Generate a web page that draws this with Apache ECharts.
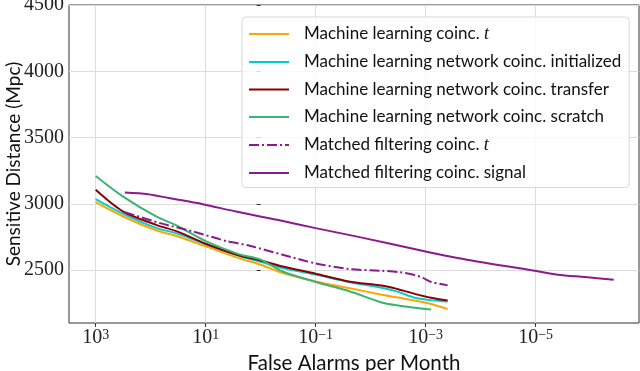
<!DOCTYPE html>
<html>
<head>
<meta charset="utf-8">
<script src="https://cdn.jsdelivr.net/npm/echarts@6/dist/echarts.min.js"></script>
<style>
  html, body { margin: 0; padding: 0; background: #fff; }
  #chart { width: 640px; height: 371px; }
</style>
</head>
<body>
<div id="chart"></div>
<script>
// x values are log10(false alarms per month)
const mlExp = [3, 2.5, 1.9, 1.5, 1.0, 0.4, 0.0, -0.4, -1.0, -1.6, -2.2, -2.5, -2.8, -3.1, -3.4]
const mlCoincT = [3012, 2904, 2800, 2753, 2678, 2590, 2540, 2477, 2414, 2364, 2314, 2292, 2270, 2243, 2205]
const mlInitialized = [3035, 2924, 2818, 2773, 2694, 2608, 2562, 2515, 2465, 2410, 2366, 2335, 2290, 2272, 2262]
const mlTransfer = [3105, 2941, 2841, 2788, 2698, 2611, 2572, 2527, 2472, 2414, 2383, 2355, 2320, 2290, 2269]
const scratchExp = [3, 2.5, 1.9, 1.5, 1.0, 0.4, 0.0, -0.4, -1.0, -1.6, -2.2, -2.5, -2.8, -3.1]
const mlScratch = [3210, 3054, 2904, 2830, 2718, 2620, 2578, 2489, 2410, 2342, 2255, 2232, 2215, 2201]

const mfTExp = [2.47, 1.83, 1.23, 0.62, 0.2, -0.4, -1.0, -1.6, -2.2, -2.5, -2.8, -2.95, -3.1, -3.4]
const mfCoincT = [2937, 2854, 2791, 2718, 2683, 2615, 2550, 2508, 2494, 2485, 2462, 2440, 2410, 2384]
const mfSignalExp = [2.47, 2.05, 1.65, 1.05, 0.45, -0.3, -1.0, -1.8, -3.0, -3.75, -4.95, -5.4, -5.9, -6.42]
const mfSignal = [3084, 3072, 3042, 2997, 2941, 2879, 2816, 2748, 2640, 2578, 2497, 2465, 2447, 2427]

const xTickExp = [3, 1, -1, -3, -5]
const yTicks = [2500, 3000, 3500, 4000, 4500]

const pair = (xs, ys) => xs.map((x, i) => [x, ys[i]])

const tickFont = 'Liberation Serif'
const textFont = 'Lato'

const chart = echarts.init(document.getElementById('chart'))

const makeSeries = (name, data, color, type) => ({
  name: name,
  type: 'line',
  data: data,
  showSymbol: false,
  symbol: 'none',
  smooth: 0.3,
  lineStyle: { color: color, width: 2, type: type || 'solid' },
  itemStyle: { color: color }
})

chart.setOption({
  animation: false,
  grid: {
    left: 69, right: 1, top: 5, bottom: 48,
    outerBoundsMode: 'none',
    containLabel: false,
    show: true,
    borderColor: '#333',
    borderWidth: 1
  },
  legend: {
    orient: 'vertical',
    left: 242,
    top: 17,
    padding: [8, 8, 6, 6],
    itemWidth: 40,
    itemHeight: 16,
    itemGap: 10.5,
    itemStyle: { opacity: 0 },
    backgroundColor: 'rgba(255,255,255,0.8)',
    borderColor: '#d8d8d8',
    borderWidth: 1,
    borderRadius: 4,
    formatter: name => name.endsWith(' t') ? name.slice(0, -1) + '{it|t}' : name,
    textStyle: {
      fontFamily: textFont,
      fontSize: 17,
      color: '#111',
      lineHeight: 16,
      padding: [0, 0, 0, 10],
      rich: {
        it: { fontFamily: tickFont, fontStyle: 'italic', fontSize: 18, color: '#111', lineHeight: 16 }
      }
    }
  },
  xAxis: {
    type: 'value',
    inverse: true,
    min: -6.88,
    max: 3.485,
    name: 'False Alarms per Month',
    nameLocation: 'middle',
    nameGap: 21,
    nameTextStyle: { fontFamily: textFont, fontSize: 20.5, color: '#111' },
    axisLine: { show: false },
    axisTick: { show: true, customValues: xTickExp, length: 4, inside: false, lineStyle: { color: '#333' } },
    splitLine: { show: true, lineStyle: { color: '#dcdcdc', width: 1 } },
    axisLabel: {
      customValues: xTickExp,
      margin: 5,
      formatter: v => '{b|10}{s|' + String(v).replace('-', '\u2212') + '}',
      rich: {
        b: { fontFamily: tickFont, fontSize: 20, color: '#222' },
        s: { fontFamily: tickFont, fontSize: 14, color: '#222', verticalAlign: 'top', padding: [0, 0, 6, 0] }
      }
    }
  },
  yAxis: {
    type: 'value',
    min: 2100,
    max: 4500,
    name: 'Sensitive Distance (Mpc)',
    nameLocation: 'middle',
    nameGap: 46,
    nameMoveOverlap: false,
    nameTextStyle: { fontFamily: textFont, fontSize: 19, color: '#111' },
    axisLine: { show: false },
    axisTick: { show: true, customValues: yTicks, length: 4, lineStyle: { color: '#333' } },
    splitLine: { show: true, lineStyle: { color: '#dcdcdc', width: 1 } },
    axisLabel: {
      customValues: yTicks,
      showMaxLabel: true,
      margin: 5,
      formatter: v => String(v),
      fontFamily: tickFont,
      fontSize: 20,
      color: '#222'
    }
  },
  series: [
    makeSeries('Machine learning coinc. t', pair(mlExp, mlCoincT), '#ffa500'),
    makeSeries('Machine learning network coinc. initialized', pair(mlExp, mlInitialized), '#00ced1'),
    makeSeries('Machine learning network coinc. transfer', pair(mlExp, mlTransfer), '#8b0000'),
    makeSeries('Machine learning network coinc. scratch', pair(scratchExp, mlScratch), '#3cb371'),
    makeSeries('Matched filtering coinc. t', pair(mfTExp, mfCoincT), '#8b1a8b', [10, 3, 2, 3]),
    makeSeries('Matched filtering coinc. signal', pair(mfSignalExp, mfSignal), '#8b1a8b')
  ]
})
</script>
</body>
</html>
